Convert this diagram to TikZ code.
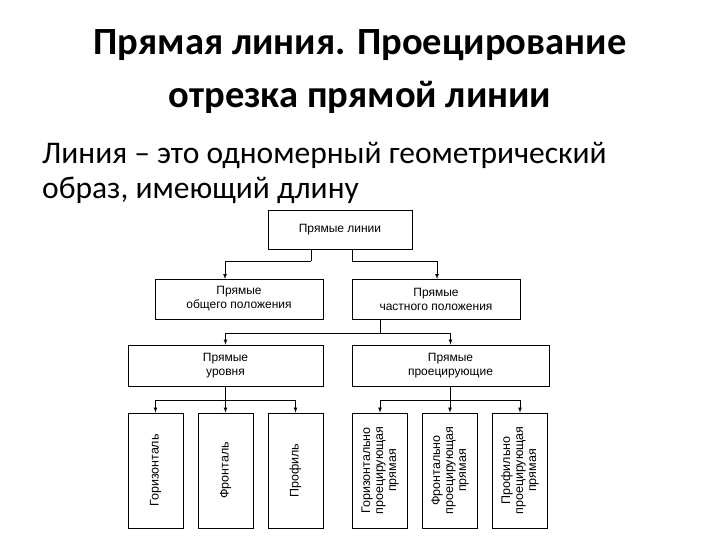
\documentclass[tikz,border=0pt]{standalone}
\usepackage{fontspec}
\setmainfont{Carlito}
\newfontfamily\arialf{Liberation Sans}
\begin{document}
\begin{tikzpicture}[x=1pt,y=-1pt,
 bx/.style={draw,line width=0.9pt,inner sep=0pt,font=\arialf\fontsize{12}{14}\selectfont,align=center},
 vt/.style={font=\arialf\fontsize{12.5}{13}\selectfont,rotate=90,align=center},
 ar/.style={-latex,line width=0.7pt},
 ln/.style={line width=0.7pt}]
\useasboundingbox (0,0) rectangle (720,540);
\node[font=\bfseries\fontsize{38.5}{44}\selectfont] (t1) at (360,45) {Прямая линия. Проецирование};
\node[font=\bfseries\fontsize{38.5}{44}\selectfont] (t2) at (360,97) {отрезка прямой линии};
\node[anchor=west,inner sep=0pt,font=\fontsize{31.5}{36}\selectfont] (b1) at (42,155) {Линия – это одномерный геометрический};
\node[anchor=west,inner sep=0pt,font=\fontsize{31.5}{36}\selectfont] (b2) at (42,190) {образ, имеющий длину};
\node[bx,minimum width=144,minimum height=39] (top) at (340,229.5) {Прямые линии};
\node[bx,minimum width=168,minimum height=40] (gen) at (239,299) {Прямые\\общего положения};
\node[bx,minimum width=168,minimum height=40] (part) at (436,299) {Прямые\\частного положения};
\node[bx,minimum width=195,minimum height=41] (lev) at (225.5,365.5) {Прямые\\уровня};
\node[bx,minimum width=197,minimum height=41] (proj) at (450.5,365.5) {Прямые\\проецирующие};
\foreach \n/\x in {b1/155.5,b2/225.5,b3/295.5,b4/380,b5/450,b6/520}
  \node[draw,line width=0.9pt,minimum width=55,minimum height=115] (\n) at (\x,470.5) {};
\node[vt] at (b1) {Горизонталь};
\node[vt] at (b2) {Фронталь};
\node[vt] at (b3) {Профиль};
\node[vt] at (b4) {Горизонтально\\проецирующая\\прямая};
\node[vt] at (b5) {Фронтально\\проецирующая\\прямая};
\node[vt] at (b6) {Профильно\\проецирующая\\прямая};
\coordinate (c1) at (311,261);\coordinate (c2) at (352,261);
\coordinate (d1) at (225,279);\coordinate (d2) at (437,279);
\draw[ln] (top.south -| c1) -- (c1);
\draw[ar] (c1) -| (d1);
\draw[ln] (top.south -| c2) -- (c2);
\draw[ar] (c2) -| (d2);
\coordinate (c3) at (380,333);
\draw[ln] (part.south -| c3) -- (c3);
\draw[ar] (c3) -| (lev.north);
\draw[ar] (c3) -| (proj.north);
\coordinate (c4) at (225.5,400);\coordinate (c5) at (450,400);
\draw[ln] (lev.south) -- (c4);
\draw[ar] (c4) -| (b1.north);\draw[ar] (c4) -- (b2.north);\draw[ar] (c4) -| (b3.north);
\draw[ln] (proj.south -| c5) -- (c5);
\draw[ar] (c5) -| (b4.north);\draw[ar] (c5) -- (b5.north);\draw[ar] (c5) -| (b6.north);
\end{tikzpicture}
\end{document}
